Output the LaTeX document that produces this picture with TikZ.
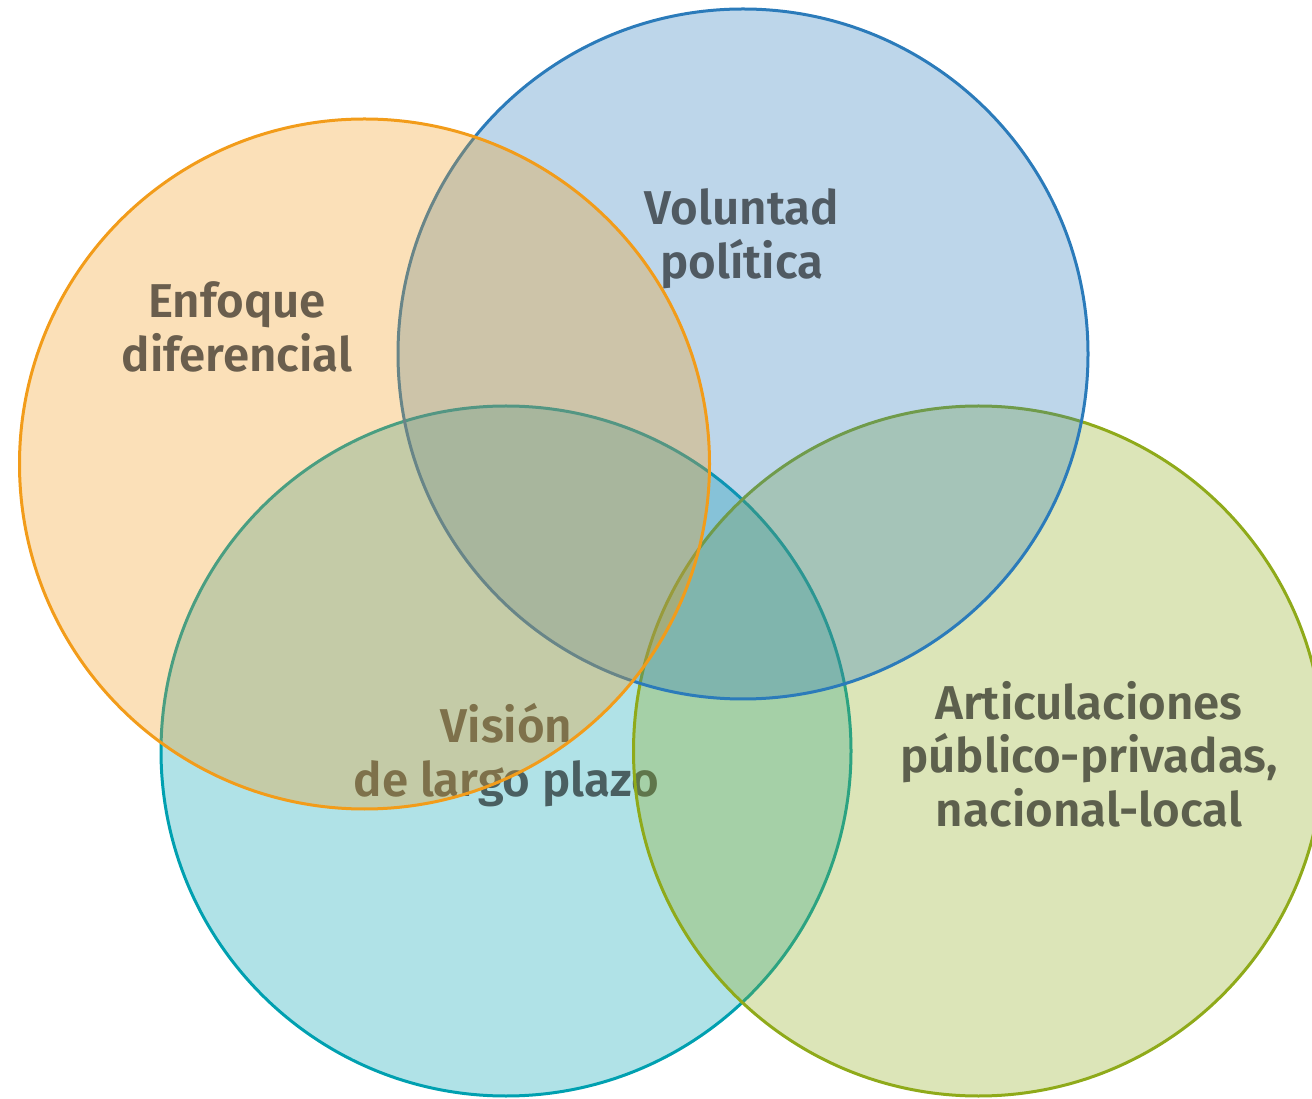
\documentclass[tikz,border=0pt]{standalone}
\usepackage{fontspec}
\usepackage{tikz}
\usepackage{xcolor}
\usetikzlibrary{positioning}
\newfontfamily\vennfont{Fira Sans SemiBold}
\definecolor{orangec}{HTML}{F29C1A}
\definecolor{bluec}{HTML}{2B7BBA}
\definecolor{tealc}{HTML}{00A0B0}
\definecolor{greenc}{HTML}{8FAA1A}
\definecolor{labelc}{HTML}{6C6C6C}

\begin{document}
\begin{tikzpicture}[
    label/.style={font=\vennfont\fontsize{27}{30.5}\selectfont, text=labelc, align=center, blend mode=multiply},
    set/.style={line width=0.06cm, draw=#1, fill=#1, fill opacity=0.31}
]
\clip (0,0) rectangle (26.24,21.96);

% Circles, each with its label multiplied into the shading
\foreach \cx/\cy/\col/\name/\lx/\ly/\txt in {
    10.12/6.94/tealc/vision/10.13/6.86/{Visión\\de largo plazo},
    19.57/6.94/greenc/articulaciones/21.78/6.88/{Articulaciones\\público-privadas,\\nacional-local},
    14.86/14.88/bluec/voluntad/14.84/17.18/{Voluntad\\política},
    7.29/12.68/orangec/enfoque/4.74/15.42/{Enfoque\\diferencial}} {
    \draw[set=\col] (\cx,\cy) circle (6.9);
    \begin{scope}[blend mode=multiply]
        \node[label] (\name) at (\lx,\ly) {\txt};
    \end{scope}
}
\end{tikzpicture}
\end{document}
